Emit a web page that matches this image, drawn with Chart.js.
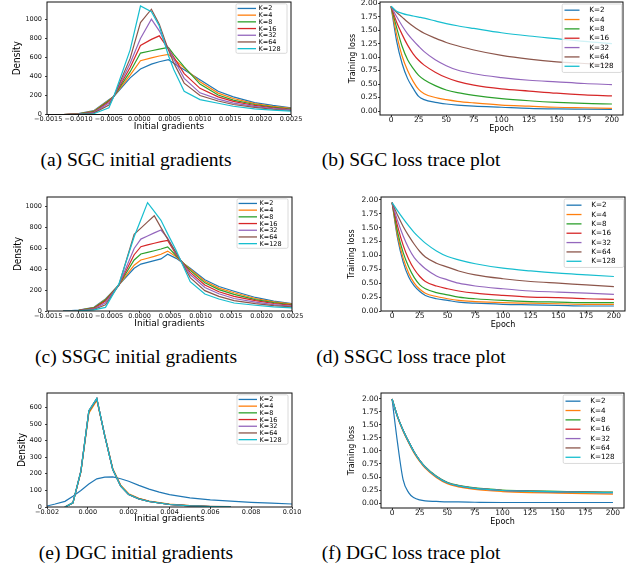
<!DOCTYPE html>
<html>
<head>
<meta charset="utf-8">
<script src="https://cdn.jsdelivr.net/npm/chart.js@4.4.1/dist/chart.umd.min.js"></script>
<style>
  body { margin: 0; background: #fff; width: 634px; height: 572px; position: relative; overflow: hidden; }
  canvas { position: absolute; }
  .cap { position: absolute; font-family: 'Liberation Serif', 'Times New Roman', serif; font-size: 19.5px;
         line-height: 20px; white-space: nowrap; transform: translateX(-50%); color: #000; }
</style>
</head>
<body>
<canvas id="cA"></canvas>
<canvas id="cB"></canvas>
<canvas id="cC"></canvas>
<canvas id="cD"></canvas>
<canvas id="cE"></canvas>
<canvas id="cF"></canvas>
<div class="cap" style="left:136px;top:150px">(a) SGC initial gradients</div>
<div class="cap" style="left:411px;top:150px">(b) SGC loss trace plot</div>
<div class="cap" style="left:136px;top:347px">(c) SSGC initial gradients</div>
<div class="cap" style="left:411px;top:347px">(d) SSGC loss trace plot</div>
<div class="cap" style="left:136px;top:543px">(e) DGC initial gradients</div>
<div class="cap" style="left:411px;top:543px">(f) DGC loss trace plot</div>
<script>
const kLabels = ['K=2', 'K=4', 'K=8', 'K=16', 'K=32', 'K=64', 'K=128'];
const kColors = ['#1f77b4', '#ff7f0e', '#2ca02c', '#d62728', '#9467bd', '#8c564b', '#17becf'];

// tick values
const gradTicksSGC = [-0.0015, -0.001, -0.0005, 0, 0.0005, 0.001, 0.0015, 0.002, 0.0025];
const gradTicksDGC = [-0.002, 0, 0.002, 0.004, 0.006, 0.008, 0.01];
const densityTicksSGC = [0, 200, 400, 600, 800, 1000];
const densityTicksDGC = [0, 100, 200, 300, 400, 500, 600];
const epochTicks = [0, 25, 50, 75, 100, 125, 150, 175, 200];
const lossTicks = [0, 0.25, 0.5, 0.75, 1.0, 1.25, 1.5, 1.75, 2.0];

// (a) SGC initial gradients, one row per K
const sgcGradX = [-0.00125, -0.001, -0.00075, -0.0005, -0.00042, -0.00015, 0.00002, 0.0002, 0.00033,
                  0.00048, 0.00057, 0.00074, 0.001, 0.0013, 0.00155, 0.0019, 0.0022, 0.0025];
const sgcGradY = [
  [0, 10, 40, 155, 190, 385, 478, 530, 555, 576, 540, 470, 366, 245, 185, 125, 95, 70],
  [0, 8, 35, 150, 190, 415, 565, 595, 615, 632, 585, 490, 345, 225, 168, 115, 85, 64],
  [0, 6, 30, 145, 190, 450, 646, 670, 688, 705, 630, 500, 320, 205, 152, 105, 78, 58],
  [0, 5, 25, 135, 190, 495, 726, 790, 827, 690, 600, 430, 275, 185, 138, 95, 70, 52],
  [0, 4, 20, 120, 190, 540, 800, 1002, 880, 690, 580, 380, 228, 162, 120, 85, 62, 48],
  [0, 3, 15, 100, 190, 590, 967, 1107, 950, 680, 540, 330, 200, 142, 105, 75, 55, 42],
  [0, 2, 8, 70, 190, 680, 1141, 1082, 930, 620, 470, 244, 157, 118, 87, 60, 45, 35]
];

// (c) SSGC initial gradients
const ssgcGradX = [-0.00125, -0.001, -0.00075, -0.00056, -0.00034, -0.00009, 0.00002, 0.00013, 0.00024,
                   0.00035, 0.00046, 0.0006, 0.00083, 0.00107, 0.0013, 0.00155, 0.0019, 0.0022, 0.0025];
const ssgcGradY = [
  [0, 8, 35, 115, 250, 410, 450, 466, 483, 500, 545, 505, 410, 300, 235, 190, 130, 95, 70],
  [0, 7, 32, 110, 250, 440, 489, 506, 524, 545, 575, 520, 400, 285, 220, 175, 120, 88, 65],
  [0, 6, 30, 105, 250, 490, 547, 562, 578, 595, 615, 530, 390, 270, 205, 160, 110, 80, 60],
  [0, 5, 25, 95, 250, 540, 617, 635, 650, 665, 678, 540, 370, 250, 185, 140, 100, 72, 54],
  [0, 4, 20, 80, 250, 600, 690, 720, 750, 777, 700, 550, 350, 225, 165, 120, 85, 62, 47],
  [0, 3, 15, 60, 250, 735, 795, 855, 914, 800, 690, 560, 320, 195, 140, 100, 70, 52, 40],
  [0, 2, 10, 35, 260, 712, 876, 1040, 955, 870, 740, 580, 281, 163, 115, 77, 55, 40, 30]
];

// (e) DGC initial gradients
const dgcGradX = [-0.002, -0.0016, -0.00112, -0.00073, -0.00034, 0.00005, 0.00044, 0.00083, 0.00122, 0.00161,
                  0.002, 0.0025, 0.003, 0.0035, 0.004, 0.005, 0.006, 0.007, 0.008, 0.009, 0.01];
const dgcGradY = [
  [6, 18, 34, 65, 100, 138, 170, 180, 182, 170, 155, 130, 108, 90, 75, 55, 43, 35, 28, 23, 18],
  [null, null, 0, 24, 210, 565, 642, 432, 232, 132, 80, 52, 36, 26, 17, 8, 3, 1, null, null, null],
  [null, null, 0, 25, 214, 574, 650, 428, 228, 127, 77, 50, 34, 25, 16, 7, 3, 1, null, null, null],
  [null, null, 0, 25, 216, 578, 652, 428, 226, 125, 75, 49, 34, 24, 15, 7, 3, 1, null, null, null],
  [null, null, 0, 25, 216, 579, 653, 428, 226, 125, 75, 48, 33, 24, 15, 7, 3, 1, null, null, null],
  [null, null, 0, 25, 216, 579, 654, 428, 226, 125, 75, 48, 33, 24, 15, 8, 4, 2, null, null, null],
  [null, null, 0, 25, 216, 580, 655, 428, 226, 125, 75, 48, 33, 24, 15, 7, 3, 1, null, null, null]
];

// loss traces (b) SGC, (d) SSGC, (f) DGC
const epochs = [0, 5, 10, 15, 20, 25, 30, 40, 50, 60, 75, 100, 125, 150, 175, 200];
const sgcLoss = [
  [1.94, 1.30, 0.88, 0.60, 0.42, 0.27, 0.21, 0.16, 0.13, 0.11, 0.09, 0.07, 0.05, 0.04, 0.035, 0.03],
  [1.94, 1.42, 1.02, 0.75, 0.55, 0.40, 0.32, 0.25, 0.21, 0.18, 0.15, 0.11, 0.09, 0.07, 0.06, 0.05],
  [1.94, 1.55, 1.20, 0.95, 0.79, 0.66, 0.58, 0.47, 0.39, 0.34, 0.29, 0.23, 0.19, 0.16, 0.14, 0.13],
  [1.94, 1.65, 1.42, 1.22, 1.06, 0.94, 0.85, 0.72, 0.62, 0.55, 0.48, 0.41, 0.37, 0.33, 0.30, 0.28],
  [1.94, 1.75, 1.58, 1.43, 1.31, 1.20, 1.10, 0.95, 0.84, 0.76, 0.69, 0.62, 0.57, 0.54, 0.51, 0.49],
  [1.94, 1.83, 1.74, 1.65, 1.57, 1.50, 1.44, 1.35, 1.27, 1.21, 1.13, 1.03, 0.96, 0.91, 0.88, 0.85],
  [1.94, 1.85, 1.81, 1.78, 1.76, 1.74, 1.72, 1.67, 1.62, 1.58, 1.53, 1.45, 1.39, 1.34, 1.29, 1.25]
];
const ssgcLoss = [
  [1.95, 1.30, 0.88, 0.61, 0.45, 0.35, 0.28, 0.22, 0.19, 0.16, 0.14, 0.12, 0.11, 0.10, 0.09, 0.09],
  [1.95, 1.35, 0.95, 0.68, 0.50, 0.39, 0.32, 0.26, 0.22, 0.19, 0.17, 0.15, 0.14, 0.13, 0.12, 0.12],
  [1.95, 1.42, 1.05, 0.79, 0.60, 0.47, 0.40, 0.33, 0.29, 0.25, 0.22, 0.19, 0.17, 0.16, 0.15, 0.15],
  [1.95, 1.52, 1.18, 0.93, 0.75, 0.62, 0.53, 0.45, 0.40, 0.36, 0.32, 0.28, 0.25, 0.24, 0.22, 0.21],
  [1.95, 1.62, 1.35, 1.13, 0.96, 0.85, 0.76, 0.63, 0.56, 0.50, 0.45, 0.40, 0.36, 0.34, 0.32, 0.30],
  [1.95, 1.72, 1.52, 1.35, 1.20, 1.07, 0.97, 0.86, 0.79, 0.72, 0.65, 0.58, 0.53, 0.50, 0.47, 0.44],
  [1.95, 1.80, 1.66, 1.53, 1.41, 1.31, 1.22, 1.08, 0.98, 0.92, 0.85, 0.77, 0.72, 0.68, 0.65, 0.62]
];
const dgcLoss = [
  [2.00, 1.15, 0.45, 0.20, 0.10, 0.06, 0.04, 0.03, 0.02, 0.02, 0.015, 0.01, 0.01, 0.01, 0.01, 0.01],
  [2.00, 1.65, 1.38, 1.16, 0.96, 0.80, 0.67, 0.49, 0.37, 0.31, 0.26, 0.22, 0.20, 0.19, 0.18, 0.17],
  [2.00, 1.66, 1.40, 1.18, 0.98, 0.82, 0.70, 0.52, 0.40, 0.34, 0.29, 0.25, 0.235, 0.225, 0.215, 0.21],
  [2.00, 1.66, 1.40, 1.18, 0.98, 0.82, 0.69, 0.51, 0.39, 0.33, 0.28, 0.24, 0.225, 0.215, 0.205, 0.20],
  [2.00, 1.66, 1.40, 1.18, 0.98, 0.82, 0.69, 0.51, 0.39, 0.33, 0.28, 0.24, 0.225, 0.215, 0.205, 0.20],
  [2.00, 1.66, 1.40, 1.18, 0.98, 0.82, 0.69, 0.51, 0.39, 0.33, 0.28, 0.24, 0.225, 0.215, 0.21, 0.205],
  [2.00, 1.66, 1.40, 1.18, 0.98, 0.82, 0.69, 0.51, 0.39, 0.33, 0.28, 0.24, 0.225, 0.215, 0.205, 0.20]
];

Chart.defaults.font.family = "'DejaVu Sans', sans-serif";
Chart.defaults.color = '#000';

const sans = "'DejaVu Sans', sans-serif";
const narrow = "'DejaVu Sans Condensed', 'Liberation Sans Narrow', 'DejaVu Sans', sans-serif";
const smallLegend = { w: 51, rowH: 6.7, padY: 1.3, insetR: 4, insetT: 1.8, lineX0: 1.6, lineX1: 20, textX: 22.5, size: 6.5 };
const bigLegend = { w: 59.5, rowH: 9.35, padY: 1.5, insetR: 1.3, insetT: 2, lineX0: 2.3, lineX1: 17.3, textX: 27, size: 7.2 };

// frame around the plot area plus matplotlib-style legend box
const frameLegend = {
  id: 'frameLegend',
  afterDatasetsDraw(chart, args, o) {
    const { ctx, chartArea: a } = chart;
    ctx.save();
    ctx.strokeStyle = '#111';
    ctx.lineWidth = 1;
    ctx.strokeRect(a.left, a.top, a.right - a.left, a.bottom - a.top);

    const sets = chart.data.datasets;
    const h = o.padY * 2 + o.rowH * sets.length;
    const x = a.right - o.insetR - o.w, y = a.top + o.insetT;
    ctx.beginPath();
    if (ctx.roundRect) ctx.roundRect(x, y, o.w, h, 1.5); else ctx.rect(x, y, o.w, h);
    ctx.fillStyle = 'rgba(255,255,255,0.8)';
    ctx.fill();
    ctx.strokeStyle = '#d0d0d0';
    ctx.lineWidth = 0.8;
    ctx.stroke();

    ctx.font = o.size + 'px ' + sans;
    ctx.textBaseline = 'middle';
    ctx.textAlign = 'left';
    sets.forEach((ds, i) => {
      const cy = y + o.padY + o.rowH * (i + 0.5);
      ctx.strokeStyle = ds.borderColor;
      ctx.lineWidth = 1.3;
      ctx.beginPath();
      ctx.moveTo(x + o.lineX0, cy);
      ctx.lineTo(x + o.lineX1, cy);
      ctx.stroke();
      ctx.fillStyle = '#000';
      ctx.fillText(ds.label, x + o.textX, cy + 0.3);
    });
    ctx.restore();
  }
};

const fmtGrad = d => v => (v < 0 ? '\u2212' : '') + Math.abs(v).toFixed(d);

const panels = [
  { id: 'cA', xs: sgcGradX, rows: sgcGradY, smooth: false, plot: [47, 2, 291, 115], yTitleX: 17, xTitleY: 127.5,
    x: { min: -0.00152, max: 0.0025, ticks: gradTicksSGC, fmt: fmtGrad(4), title: 'Initial gradients', size: 9 },
    y: { min: 0, max: 1183, ticks: densityTicksSGC, fmt: v => String(v), title: 'Density', size: 10, family: narrow },
    tickSize: 6.5, yPad: 3, legend: smallLegend },
  { id: 'cB', xs: epochs, rows: sgcLoss, smooth: true, plot: [380, 2, 623, 115], yTitleX: 353, xTitleY: 129,
    x: { min: -10, max: 210, ticks: epochTicks, fmt: v => String(v), title: 'Epoch', size: 8 },
    y: { min: -0.074, max: 2.02, ticks: lossTicks, fmt: v => v.toFixed(2), title: 'Training loss', size: 8, family: sans },
    tickSize: 7.5, yPad: 0.5, legend: bigLegend },
  { id: 'cC', xs: ssgcGradX, rows: ssgcGradY, smooth: false, plot: [47, 197, 292, 311], yTitleX: 18, xTitleY: 324,
    x: { min: -0.00152, max: 0.0025, ticks: gradTicksSGC, fmt: fmtGrad(4), title: 'Initial gradients', size: 9 },
    y: { min: 0, max: 1094, ticks: densityTicksSGC, fmt: v => String(v), title: 'Density', size: 10, family: narrow },
    tickSize: 6.5, yPad: 3, legend: smallLegend },
  { id: 'cD', xs: epochs, rows: ssgcLoss, smooth: true, plot: [381, 197, 625, 311], yTitleX: 352, xTitleY: 325,
    x: { min: -10, max: 210, ticks: epochTicks, fmt: v => String(v), title: 'Epoch', size: 8 },
    y: { min: 0, max: 2.05, ticks: lossTicks, fmt: v => v.toFixed(2), title: 'Training loss', size: 8, family: sans },
    tickSize: 7.5, yPad: 0.7, legend: bigLegend },
  { id: 'cE', xs: dgcGradX, rows: dgcGradY, smooth: false, plot: [47, 393, 292, 507], yTitleX: 22, xTitleY: 519,
    x: { min: -0.002, max: 0.01, ticks: gradTicksDGC, fmt: fmtGrad(3), title: 'Initial gradients', size: 9 },
    y: { min: 0, max: 687, ticks: densityTicksDGC, fmt: v => String(v), title: 'Density', size: 10, family: narrow },
    tickSize: 6.5, yPad: 3, legend: smallLegend },
  { id: 'cF', xs: epochs, rows: dgcLoss, smooth: true, plot: [381, 393, 624, 508], yTitleX: 352, xTitleY: 522,
    x: { min: -10, max: 210, ticks: epochTicks, fmt: v => String(v), title: 'Epoch', size: 8 },
    y: { min: -0.096, max: 2.115, ticks: lossTicks, fmt: v => v.toFixed(2), title: 'Training loss', size: 8, family: sans },
    tickSize: 7.5, yPad: 0.4, legend: bigLegend }
];

function makePanel(p) {
  const canvas = document.getElementById(p.id);
  const padL = 4, padT = 8, padR = 18, padB = 2;
  const [L, T, R, B] = p.plot;
  const yW = L - p.yTitleX + 8;
  const xH = p.xTitleY + 6 - B;
  const left = L - yW - padL, top = T - padT;
  canvas.width = R + padR - left;
  canvas.height = B + xH + padB - top;
  canvas.style.left = left + 'px';
  canvas.style.top = top + 'px';

  const grid = { drawOnChartArea: false, drawTicks: true, tickLength: 2, color: '#111', lineWidth: 0.8 };
  const lhX = p.x.size * 1.2, lhY = p.y.size * 1.2;

  new Chart(canvas, {
    type: 'line',
    data: {
      datasets: p.rows.map((ys, i) => ({
        label: kLabels[i],
        data: p.xs.map((x, j) => ({ x: x, y: ys[j] })),
        borderColor: kColors[i],
        backgroundColor: kColors[i],
        borderWidth: 1.2,
        pointRadius: 0,
        fill: false,
        spanGaps: false,
        tension: 0,
        cubicInterpolationMode: p.smooth ? 'monotone' : 'default',
        order: 6 - i
      }))
    },
    options: {
      responsive: false,
      animation: false,
      devicePixelRatio: 1,
      layout: { padding: { left: padL, top: padT, right: padR, bottom: padB } },
      plugins: { legend: { display: false }, tooltip: { enabled: false }, frameLegend: p.legend },
      scales: {
        x: {
          type: 'linear', min: p.x.min, max: p.x.max,
          afterBuildTicks: s => { s.ticks = p.x.ticks.map(v => ({ value: v })); },
          afterFit: s => { s.height = xH; },
          grid: grid,
          border: { display: false },
          ticks: { autoSkip: false, maxRotation: 0, padding: -1, color: '#111',
                   font: { family: sans, size: p.tickSize }, callback: v => p.x.fmt(v) },
          title: { display: true, text: p.x.title, color: '#000',
                   font: { family: sans, size: p.x.size, lineHeight: 1.2 },
                   padding: { top: 0, bottom: 6 - lhX / 2 } }
        },
        y: {
          type: 'linear', min: p.y.min, max: p.y.max,
          afterBuildTicks: s => { s.ticks = p.y.ticks.map(v => ({ value: v })); },
          afterFit: s => { s.width = yW; },
          grid: grid,
          border: { display: false },
          ticks: { autoSkip: false, padding: p.yPad, color: '#111',
                   font: { family: sans, size: p.tickSize }, callback: v => p.y.fmt(v) },
          title: { display: true, text: p.y.title, color: '#000',
                   font: { family: p.y.family, size: p.y.size, lineHeight: 1.2 },
                   padding: { top: 8 - lhY / 2, bottom: 0 } }
        }
      }
    },
    plugins: [frameLegend]
  });
}

panels.forEach(makePanel);
</script>
</body>
</html>
